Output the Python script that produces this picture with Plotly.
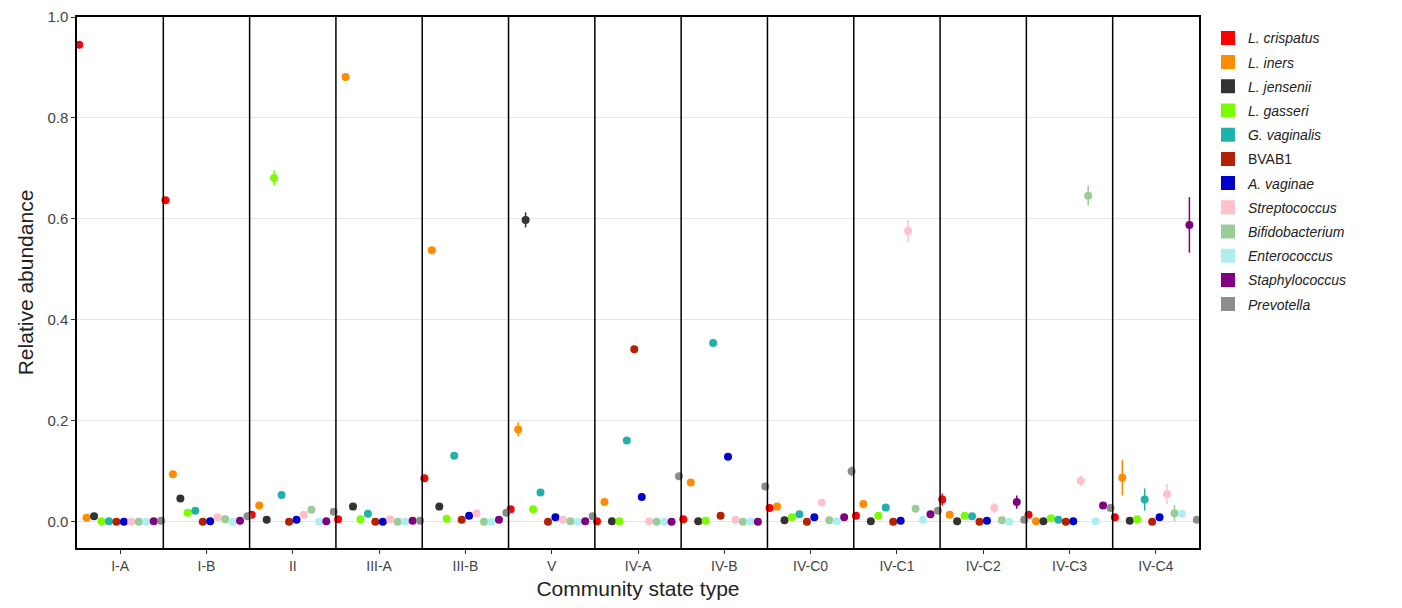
import plotly.graph_objects as go
import numpy as np

csts = ["I-A", "I-B", "II", "III-A", "III-B", "V", "IV-A", "IV-B", "IV-C0", "IV-C1", "IV-C2", "IV-C3", "IV-C4"]
taxa = ["L. crispatus", "L. iners", "L. jensenii", "L. gasseri", "G. vaginalis", "BVAB1",
        "A. vaginae", "Streptococcus", "Bifidobacterium", "Enterococcus", "Staphylococcus", "Prevotella"]
italic = [True, True, True, True, True, False, True, True, True, True, True, True]
colors = ["#FF0000", "#FF8C00", "#333333", "#7CFC00", "#20B2AA", "#B22200",
          "#0000CD", "#FFC0CB", "#99CC99", "#AEEEEE", "#800080", "#8C8C8C"]

# mean relative abundance per taxon for each CST
l_crispatus   = [0.945, 0.637, 0.014, 0.005, 0.086, 0.025, 0.001, 0.005, 0.027, 0.012, 0.044, 0.014, 0.009]
l_iners       = [0.008, 0.094, 0.032, 0.881, 0.538, 0.183, 0.039, 0.078, 0.030, 0.035, 0.014, 0.001, 0.087]
l_jensenii    = [0.011, 0.046, 0.004, 0.030, 0.030, 0.598, 0.001, 0.001, 0.003, 0.001, 0.001, 0.001, 0.002]
l_gasseri     = [0.001, 0.018, 0.681, 0.005, 0.006, 0.025, 0.001, 0.002, 0.009, 0.012, 0.012, 0.007, 0.005]
g_vaginalis   = [0.001, 0.022, 0.053, 0.016, 0.131, 0.058, 0.161, 0.354, 0.015, 0.028, 0.011, 0.004, 0.044]
bvab1         = [0.000, 0.000, 0.000, 0.000, 0.004, 0.000, 0.342, 0.012, 0.000, 0.000, 0.000, 0.000, 0.000]
a_vaginae     = [0.000, 0.001, 0.004, 0.000, 0.012, 0.009, 0.049, 0.129, 0.009, 0.002, 0.002, 0.001, 0.009]
streptococcus = [0.000, 0.009, 0.014, 0.005, 0.017, 0.004, 0.001, 0.004, 0.038, 0.576, 0.027, 0.081, 0.055]
bifidobact    = [0.000, 0.005, 0.024, 0.000, 0.000, 0.001, 0.000, 0.000, 0.003, 0.026, 0.003, 0.646, 0.017]
enterococcus  = [0.000, 0.000, 0.000, 0.000, 0.000, 0.000, 0.000, 0.000, 0.001, 0.004, 0.000, 0.001, 0.016]
staphylococ   = [0.001, 0.002, 0.001, 0.002, 0.004, 0.001, 0.000, 0.000, 0.009, 0.015, 0.039, 0.032, 0.588]
prevotella    = [0.002, 0.011, 0.020, 0.002, 0.018, 0.011, 0.090, 0.070, 0.100, 0.022, 0.004, 0.027, 0.004]

# standard errors
se_crispatus   = [0.003, 0.004, 0.002, 0.002, 0.005, 0.004, 0.001, 0.002, 0.003, 0.003, 0.012, 0.004, 0.004]
se_iners       = [0.002, 0.004, 0.004, 0.004, 0.005, 0.014, 0.004, 0.004, 0.003, 0.004, 0.003, 0.001, 0.035]
se_jensenii    = [0.002, 0.003, 0.001, 0.002, 0.003, 0.015, 0.001, 0.001, 0.002, 0.001, 0.001, 0.001, 0.002]
se_gasseri     = [0.001, 0.002, 0.015, 0.001, 0.001, 0.003, 0.001, 0.001, 0.002, 0.002, 0.004, 0.002, 0.004]
se_gvaginalis  = [0.001, 0.002, 0.006, 0.002, 0.003, 0.005, 0.004, 0.004, 0.002, 0.004, 0.003, 0.002, 0.022]
se_bvab1       = [0.000, 0.001, 0.001, 0.001, 0.001, 0.001, 0.005, 0.002, 0.001, 0.001, 0.001, 0.001, 0.001]
se_avaginae    = [0.000, 0.001, 0.001, 0.001, 0.002, 0.002, 0.003, 0.005, 0.002, 0.001, 0.001, 0.001, 0.002]
se_strepto     = [0.001, 0.002, 0.002, 0.001, 0.002, 0.001, 0.001, 0.001, 0.003, 0.022, 0.010, 0.010, 0.020]
se_bifido      = [0.000, 0.001, 0.002, 0.000, 0.000, 0.001, 0.000, 0.000, 0.001, 0.003, 0.001, 0.020, 0.016]
se_entero      = [0.000, 0.000, 0.000, 0.000, 0.000, 0.000, 0.000, 0.000, 0.001, 0.001, 0.000, 0.001, 0.005]
se_staph       = [0.001, 0.001, 0.001, 0.001, 0.001, 0.001, 0.000, 0.000, 0.002, 0.003, 0.013, 0.006, 0.055]
se_prevotella  = [0.001, 0.002, 0.002, 0.001, 0.002, 0.002, 0.003, 0.003, 0.010, 0.003, 0.001, 0.003, 0.002]

means = [l_crispatus, l_iners, l_jensenii, l_gasseri, g_vaginalis, bvab1, a_vaginae,
         streptococcus, bifidobact, enterococcus, staphylococ, prevotella]
ses = [se_crispatus, se_iners, se_jensenii, se_gasseri, se_gvaginalis, se_bvab1, se_avaginae,
       se_strepto, se_bifido, se_entero, se_staph, se_prevotella]

n_taxa = len(taxa)
dodge = 0.95
centers = np.arange(len(csts))

fig = go.Figure()
for i, (name, col) in enumerate(zip(taxa, colors)):
    off = (i / (n_taxa - 1) - 0.5) * dodge
    label = f"<i>{name}</i>" if italic[i] else name
    fig.add_trace(go.Scatter(
        x=centers + off, y=means[i], mode="markers",
        marker=dict(color=col, size=8, symbol="circle"),
        error_y=dict(type="data", array=ses[i], color=col, thickness=1.5, width=0),
        showlegend=False, hoverinfo="y"))
    fig.add_trace(go.Scatter(
        x=[None], y=[None], mode="markers", name=label,
        marker=dict(color=col, size=14, symbol="square"),
        legendgroup=name, showlegend=True))

# panel separators
for b in np.arange(0.5, len(csts) - 0.5, 1.0):
    fig.add_shape(type="line", xref="x", yref="paper", x0=b, x1=b, y0=0, y1=1,
                  line=dict(color="black", width=1.5))

# page body has an 8px margin, so the figure is sized to fit the 1402x608 window
fig.update_layout(
    width=1386, height=592,
    paper_bgcolor="white", plot_bgcolor="white",
    margin=dict(l=69, r=195, t=9, b=52),
    font=dict(family="Liberation Sans, Arial, sans-serif", color="#444444"),
    legend=dict(x=1.008, y=0.99, xanchor="left", yanchor="top",
                font=dict(size=14, color="#222222"),
                tracegroupgap=3, bgcolor="rgba(0,0,0,0)"),
)
fig.update_xaxes(range=[-0.5, len(csts) - 0.5], tickvals=list(centers), ticktext=csts,
                 showgrid=False, showline=True, linecolor="black", linewidth=1.5, mirror=True,
                 ticks="outside", ticklen=4, tickcolor="#333333",
                 tickfont=dict(size=14, color="#444444"), automargin=False,
                 title=dict(text="Community state type", font=dict(size=21, color="#222222"), standoff=10),
                 zeroline=False)
fig.update_yaxes(range=[-0.052, 1.0], tickvals=[0, 0.2, 0.4, 0.6, 0.8, 1.0],
                 ticktext=["0.0", "0.2", "0.4", "0.6", "0.8", "1.0"],
                 showgrid=True, gridcolor="#E5E5E5", gridwidth=1,
                 showline=True, linecolor="black", linewidth=1.5, mirror=True,
                 ticks="outside", ticklen=4, tickcolor="#333333",
                 tickfont=dict(size=15, color="#444444"), automargin=False,
                 title=dict(text="Relative abundance", font=dict(size=21, color="#222222"), standoff=8),
                 zeroline=False)

fig.write_html("out.html")
